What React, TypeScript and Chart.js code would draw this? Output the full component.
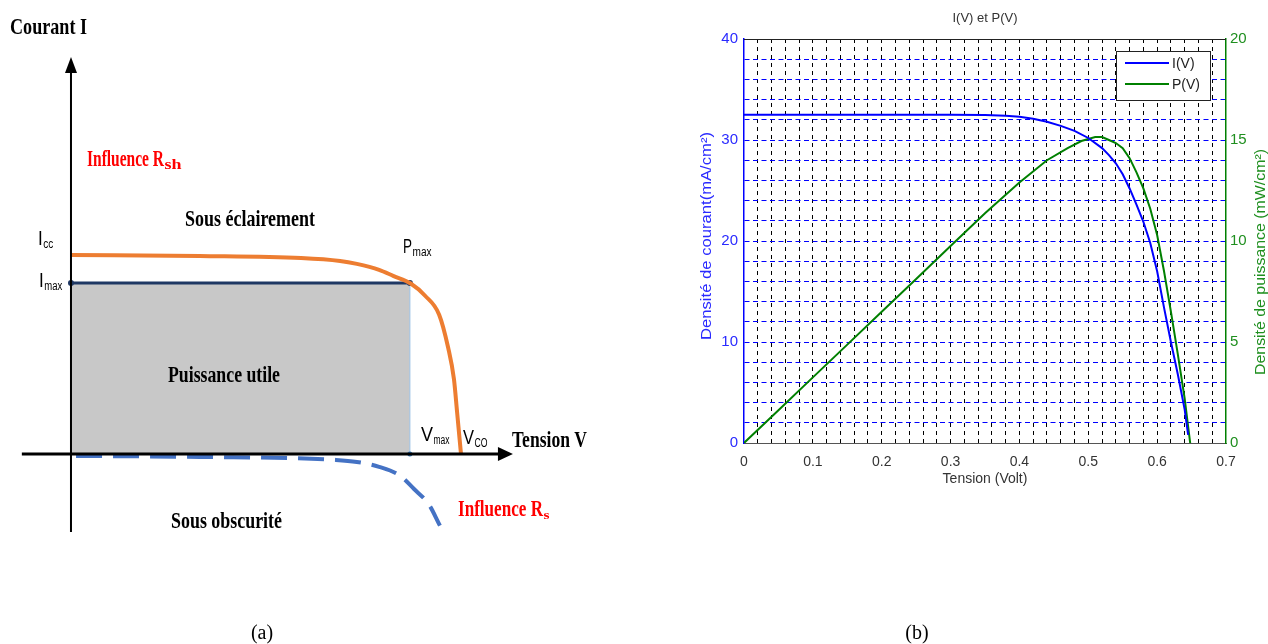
import React, { useEffect, useRef } from 'react';
import { Chart, registerables } from 'chart.js';

Chart.register(...registerables);

const SERIF = '"Liberation Serif", "Times New Roman", serif';
const SANS = '"Liberation Sans", Arial, sans-serif';
const RED = '#ff0000';

// ---------- Panel (a): schematic I–V characteristic, normalised units (V_CO = 1, I_CC = 1)
const V_CO = 1;
const I_CC = 1;
const V_MAX = 0.869;
const I_MAX = 0.859;
const ECLAIRE_V = [0.0, 0.33, 0.59, 0.69, 0.733, 0.79, 0.826, 0.872, 0.908, 0.944, 0.967, 0.982, 0.99, 1.0];
const ECLAIRE_I = [1.0, 0.995, 0.985, 0.97, 0.955, 0.925, 0.895, 0.855, 0.795, 0.7, 0.535, 0.375, 0.21, 0];
const OBSCUR_V = [0.013, 0.33, 0.679, 0.733, 0.79, 0.844, 0.879, 0.918, 0.946];
const OBSCUR_I = [-0.01, -0.015, -0.03, -0.04, -0.065, -0.11, -0.175, -0.255, -0.36];
const AXE_V = [-0.126, 1.123];
const AXE_I = [-0.392, 1.975];
const SCHEMA_X_RANGE = [-0.182, 1.459];
const SCHEMA_Y_RANGE = [-0.955, 2.281];

// ---------- Panel (b): measured I(V) and P(V)
const TENSION_I = [0, 0.05, 0.1, 0.15, 0.2, 0.25, 0.3, 0.35, 0.38, 0.4, 0.42, 0.44, 0.46, 0.48, 0.5, 0.52, 0.53, 0.54, 0.55, 0.56, 0.57, 0.58, 0.59, 0.6, 0.61, 0.62, 0.63, 0.64, 0.645];
const COURANT = [32.5, 32.5, 32.5, 32.5, 32.5, 32.5, 32.5, 32.48, 32.4, 32.3, 32.1, 31.8, 31.4, 30.9, 30.2, 29.2, 28.5, 27.7, 26.6, 25.2, 23.6, 21.9, 19.8, 17.0, 13.4, 10.0, 6.8, 3.3, 0.8];
const TENSION_P = [0, 0.05, 0.1, 0.15, 0.2, 0.25, 0.3, 0.35, 0.4, 0.44, 0.47, 0.49, 0.51, 0.52, 0.53, 0.54, 0.55, 0.56, 0.57, 0.58, 0.59, 0.6, 0.61, 0.62, 0.63, 0.64, 0.648];
const PUISSANCE = [0, 1.62, 3.25, 4.87, 6.5, 8.12, 9.75, 11.37, 12.9, 14.0, 14.6, 14.95, 15.15, 15.15, 15.0, 14.85, 14.6, 14.1, 13.4, 12.6, 11.6, 10.3, 8.5, 6.5, 4.4, 2.2, 0];
const X_MAJOR = [0, 0.1, 0.2, 0.3, 0.4, 0.5, 0.6, 0.7];
const Y_MAJOR = [0, 10, 20, 30, 40];
const Y1_MAJOR = [0, 5, 10, 15, 20];

const pts = (xs: number[], ys: number[]) => xs.map((x, i) => ({ x, y: ys[i] }));
const near = (list: number[], v: number) => list.find((m) => Math.abs(m - v) < 1e-6);

function txt(
  ctx: CanvasRenderingContext2D,
  s: string,
  x: number,
  y: number,
  font: string,
  color: string,
  opts: { w?: number; sx?: number; align?: 'left' | 'center' } = {}
) {
  ctx.save();
  ctx.font = font;
  ctx.fillStyle = color;
  ctx.textBaseline = 'alphabetic';
  ctx.textAlign = 'left';
  const m = ctx.measureText(s).width;
  const sx = opts.w ? opts.w / m : opts.sx ?? 1;
  const drawn = m * sx;
  const x0 = opts.align === 'center' ? x - drawn / 2 : x;
  ctx.translate(x0, y);
  ctx.scale(sx, 1);
  ctx.fillText(s, 0, 0);
  ctx.restore();
  return x0 + drawn;
}

const serifB = (px: number) => `bold ${px}px ${SERIF}`;
const sans = (px: number) => `${px}px ${SANS}`;

// arrowheads and annotations of the schematic
const schemaDecor = {
  id: 'schemaDecor',
  afterDatasetsDraw(chart: any) {
    const { ctx, scales } = chart;
    const sx = scales.x;
    const sy = scales.y;
    ctx.save();
    ctx.fillStyle = '#000';
    // horizontal arrow
    const hx = sx.getPixelForValue(AXE_V[1]);
    const hy = sy.getPixelForValue(0);
    ctx.beginPath();
    ctx.moveTo(hx + 4, hy);
    ctx.lineTo(hx - 11, hy - 7);
    ctx.lineTo(hx - 11, hy + 7);
    ctx.closePath();
    ctx.fill();
    // vertical arrow
    const vx = sx.getPixelForValue(0);
    const vy = sy.getPixelForValue(AXE_I[1]);
    ctx.beginPath();
    ctx.moveTo(vx, vy - 4);
    ctx.lineTo(vx - 6, vy + 12);
    ctx.lineTo(vx + 6, vy + 12);
    ctx.closePath();
    ctx.fill();
    ctx.restore();

    txt(ctx, 'Courant I', 10, 34, serifB(24), '#000', { w: 77 });
    let e = txt(ctx, 'Influence R', 87, 166, serifB(24), RED, { w: 77 });
    txt(ctx, 'sh', e + 0.5, 169, serifB(14), RED, { w: 17 });
    txt(ctx, 'Sous éclairement', 185, 226, serifB(23), '#000', { w: 130 });
    txt(ctx, 'Puissance utile', 168, 382, serifB(23), '#000', { w: 112 });
    txt(ctx, 'Sous obscurité', 171, 528, serifB(23), '#000', { w: 111 });
    e = txt(ctx, 'Influence R', 458, 516, serifB(23), RED, { w: 85 });
    txt(ctx, 's', e + 0.5, 519, serifB(13), RED, { w: 6 });
    txt(ctx, 'Tension V', 512, 447, serifB(24), '#000', { w: 75 });

    e = txt(ctx, 'I', 38, 245, sans(20), '#000', { sx: 0.85 });
    txt(ctx, 'cc', e + 0.5, 248, sans(12), '#000', { w: 10 });
    e = txt(ctx, 'I', 39, 287, sans(20), '#000', { sx: 0.85 });
    txt(ctx, 'max', e + 0.5, 290, sans(12), '#000', { w: 18 });
    e = txt(ctx, 'P', 403, 253, sans(20), '#000', { w: 9 });
    txt(ctx, 'max', e + 0.5, 256, sans(12), '#000', { w: 19 });
    e = txt(ctx, 'V', 421, 441, sans(20), '#000', { w: 12 });
    txt(ctx, 'max', e + 0.5, 444, sans(12), '#000', { w: 16 });
    e = txt(ctx, 'V', 463, 444, sans(20), '#000', { w: 11 });
    txt(ctx, 'CO', e + 0.5, 447, sans(13), '#000', { w: 13 });

    txt(ctx, '(a)', 262, 639, `20px ${SERIF}`, '#000', { align: 'center' });
  },
};

// frame top, titles and legend of the measured curves
const matlabDecor = {
  id: 'matlabDecor',
  afterDraw(chart: any) {
    const { ctx, chartArea: a } = chart;
    ctx.save();
    ctx.strokeStyle = '#222';
    ctx.lineWidth = 1;
    ctx.beginPath();
    ctx.moveTo(a.left, Math.round(a.top) + 0.5);
    ctx.lineTo(a.right, Math.round(a.top) + 0.5);
    ctx.stroke();
    ctx.restore();

    const cx = (a.left + a.right) / 2;
    txt(ctx, 'I(V) et P(V)', cx, 22, sans(13), '#333', { align: 'center' });
    txt(ctx, 'Tension (Volt)', cx, 483, sans(14), '#333', { align: 'center' });

    ctx.save();
    ctx.translate(71, 236);
    ctx.rotate(-Math.PI / 2);
    txt(ctx, 'Densité de courant(mA/cm²)', 0, 0, sans(14), '#2a2aff', { align: 'center', w: 208 });
    ctx.restore();
    ctx.save();
    ctx.translate(625, 262);
    ctx.rotate(-Math.PI / 2);
    txt(ctx, 'Densité de puissance (mW/cm²)', 0, 0, sans(14), '#1f8f1f', { align: 'center', w: 226 });
    ctx.restore();

    // legend box
    const bx = a.right - 110;
    const by = a.top + 12;
    ctx.save();
    ctx.fillStyle = '#fff';
    ctx.fillRect(bx, by, 94, 49);
    ctx.strokeStyle = '#222';
    ctx.lineWidth = 1;
    ctx.strokeRect(bx + 0.5, by + 0.5, 94, 49);
    chart.data.datasets.forEach((ds: any, i: number) => {
      const ly = by + 12 + i * 21;
      ctx.strokeStyle = ds.borderColor;
      ctx.lineWidth = 2;
      ctx.beginPath();
      ctx.moveTo(bx + 9, ly);
      ctx.lineTo(bx + 53, ly);
      ctx.stroke();
      txt(ctx, ds.label, bx + 56, ly + 5, sans(14), '#222');
    });
    ctx.restore();

    txt(ctx, '(b)', 277, 639, `20px ${SERIF}`, '#000', { align: 'center' });
  },
};

export default function App() {
  const refA = useRef<HTMLCanvasElement>(null);
  const refB = useRef<HTMLCanvasElement>(null);

  useEffect(() => {
    const line = { showLine: true, pointRadius: 0, fill: false };
    const chartA = new Chart(refA.current as HTMLCanvasElement, {
      type: 'scatter',
      data: {
        datasets: [
          { ...line, label: 'axe V', data: [{ x: AXE_V[0], y: 0 }, { x: AXE_V[1] - 0.02, y: 0 }], borderColor: '#000', borderWidth: 3 },
          { ...line, label: 'axe I', data: [{ x: 0, y: AXE_I[0] }, { x: 0, y: AXE_I[1] - 0.04 }], borderColor: '#000', borderWidth: 2 },
          {
            ...line,
            label: 'Sous éclairement',
            data: pts(ECLAIRE_V, ECLAIRE_I),
            borderColor: '#ed7d31',
            borderWidth: 4,
            cubicInterpolationMode: 'monotone',
          },
          {
            ...line,
            label: 'Sous obscurité',
            data: pts(OBSCUR_V, OBSCUR_I),
            borderColor: '#4472c4',
            borderWidth: 4,
            borderDash: [26, 11],
            cubicInterpolationMode: 'monotone',
          },
          {
            ...line,
            label: 'Imax',
            data: [{ x: 0, y: I_MAX }, { x: V_MAX, y: I_MAX }],
            borderColor: '#1f3864',
            borderWidth: 3,
            pointRadius: 3,
            pointBorderWidth: 0,
            pointBackgroundColor: '#1f3864',
          },
          {
            ...line,
            label: 'Vmax',
            data: [{ x: V_MAX, y: 0 }, { x: V_MAX, y: I_MAX }],
            borderColor: '#9dc3e6',
            borderWidth: 1,
            pointRadius: [2.5, 0],
            pointBorderWidth: 0,
            pointBackgroundColor: '#2e75b6',
          },
          {
            ...line,
            label: 'Puissance utile',
            data: [{ x: 0, y: I_MAX }, { x: V_MAX, y: I_MAX }],
            borderWidth: 0,
            borderColor: 'rgba(0,0,0,0)',
            fill: 'origin',
            backgroundColor: '#c8c8c8',
          },
        ],
      },
      options: {
        animation: false,
        responsive: false,
        events: [],
        layout: { padding: 0, autoPadding: false },
        plugins: { legend: { display: false }, tooltip: { enabled: false } },
        scales: {
          x: { type: 'linear', display: false, min: SCHEMA_X_RANGE[0], max: SCHEMA_X_RANGE[1] },
          y: { type: 'linear', display: false, min: SCHEMA_Y_RANGE[0], max: SCHEMA_Y_RANGE[1] },
        },
      },
      plugins: [schemaDecor],
    } as any);

    const edge = (list: number[]) => (c: any) =>
      c.tick && (Math.abs(c.tick.value - list[0]) < 1e-6 || Math.abs(c.tick.value - list[list.length - 1]) < 1e-6);

    const chartB = new Chart(refB.current as HTMLCanvasElement, {
      type: 'line',
      data: {
        datasets: [
          { label: 'I(V)', data: pts(TENSION_I, COURANT), yAxisID: 'y', borderColor: '#0000ff', borderWidth: 2, pointRadius: 0, fill: false },
          { label: 'P(V)', data: pts(TENSION_P, PUISSANCE), yAxisID: 'y1', borderColor: '#008000', borderWidth: 2, pointRadius: 0, fill: false },
        ],
      },
      options: {
        animation: false,
        responsive: false,
        events: [],
        layout: { padding: { left: 0, right: 0, top: 39, bottom: 161 }, autoPadding: false },
        plugins: { legend: { display: false }, tooltip: { enabled: false } },
        scales: {
          x: {
            type: 'linear',
            min: 0,
            max: 0.7,
            afterFit: (s: any) => { s.height = 40; },
            ticks: {
              stepSize: 0.02,
              autoSkip: false,
              maxRotation: 0,
              minRotation: 0,
              padding: 11,
              color: '#333',
              font: { family: SANS, size: 14 },
              callback: (v: any) => {
                const m = near(X_MAJOR, Number(v));
                return m === undefined ? '' : String(m);
              },
            },
            grid: {
              color: (c: any) => (edge(X_MAJOR)(c) ? 'rgba(0,0,0,0)' : '#000'),
              lineWidth: 1,
              drawTicks: false,
            },
            border: { color: '#555', width: 1, dash: [4, 4] },
          },
          y: {
            position: 'left',
            min: 0,
            max: 40,
            afterFit: (s: any) => { s.width = 104; },
            ticks: {
              stepSize: 2,
              autoSkip: false,
              padding: 6,
              color: '#2a2aff',
              font: { family: SANS, size: 15 },
              callback: (v: any) => {
                const m = near(Y_MAJOR, Number(v));
                return m === undefined ? '' : String(m);
              },
            },
            grid: {
              color: (c: any) => (edge(Y_MAJOR)(c) ? 'rgba(0,0,0,0)' : '#0000ff'),
              lineWidth: 1,
              drawTicks: false,
            },
            border: { color: '#0000ff', width: 1.5, dash: [5, 3.5] },
          },
          y1: {
            position: 'right',
            min: 0,
            max: 20,
            afterFit: (s: any) => { s.width = 42; },
            ticks: {
              stepSize: 5,
              autoSkip: false,
              padding: 4,
              color: '#1f8f1f',
              font: { family: SANS, size: 15 },
              callback: (v: any) => {
                const m = near(Y1_MAJOR, Number(v));
                return m === undefined ? '' : String(m);
              },
            },
            grid: { display: false, drawTicks: false },
            border: { color: '#008000', width: 1.5 },
          },
        },
      },
      plugins: [matlabDecor],
    } as any);

    return () => {
      chartA.destroy();
      chartB.destroy();
    };
  }, []);

  return (
    <div style={{ position: 'absolute', left: 0, top: 0, width: 1268, height: 644, background: '#fff' }}>
      <canvas ref={refA} width={640} height={644} style={{ position: 'absolute', left: 0, top: 0, width: 640, height: 644 }} />
      <canvas ref={refB} width={628} height={644} style={{ position: 'absolute', left: 640, top: 0, width: 628, height: 644 }} />
    </div>
  );
}
